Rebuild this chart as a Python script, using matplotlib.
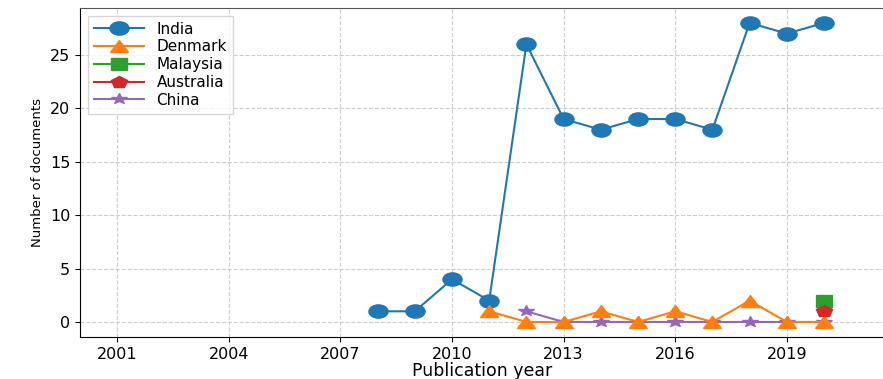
import matplotlib
matplotlib.use("Agg")
import matplotlib.pyplot as plt
from matplotlib.markers import MarkerStyle
from matplotlib.transforms import Affine2D

# documents per country and publication year
india_years = [2008, 2009, 2010, 2011, 2012, 2013, 2014, 2015, 2016, 2017, 2018, 2019, 2020]
india_docs = [1, 1, 4, 2, 26, 19, 18, 19, 19, 18, 28, 27, 28]
denmark_years = [2011, 2012, 2013, 2014, 2015, 2016, 2017, 2018, 2019, 2020]
denmark_docs = [1, 0, 0, 1, 0, 1, 0, 2, 0, 0]
malaysia_years = [2020]
malaysia_docs = [2]
australia_years = [2020]
australia_docs = [1]
china_years = [2012, 2013, 2014, 2015, 2016, 2017, 2018, 2019, 2020]
china_docs = [1, 0, 0, 0, 0, 0, 0, 0, 0]
year_ticks = [2001, 2004, 2007, 2010, 2013, 2016, 2019]


def wide(m):
    # markers are drawn a bit wider than tall
    return MarkerStyle(m, transform=Affine2D().scale(1.45, 1.0))


fig = plt.figure(figsize=(8.83, 3.79), dpi=100)
ax = fig.add_axes([0.0906, 0.111, 0.91, 0.868])

l1, = ax.plot(india_years, india_docs, marker=wide("o"), markersize=9.5, color="C0", label="India", zorder=3)
l2, = ax.plot(denmark_years, denmark_docs, marker=wide("^"), markersize=8.5, color="C1", label="Denmark", zorder=3)
l3, = ax.plot(malaysia_years, malaysia_docs, marker=wide("s"), markersize=8, color="C2", label="Malaysia", zorder=3)
l4, = ax.plot(australia_years, australia_docs, marker=wide("p"), markersize=8.5, color="C3", label="Australia", zorder=4)
l5, = ax.plot(china_years, china_docs, marker=wide("*"), markersize=8, color="C4", label="China", zorder=2)

ax.set_xlim(2000, 2021.6)
ax.set_ylim(-1.4, 29.4)
ax.set_xticks(year_ticks)
ax.set_yticks([0, 5, 10, 15, 20, 25])
ax.tick_params(labelsize=11.5)
ax.grid(True, linestyle="--", color="#cccccc", linewidth=0.8)
ax.set_axisbelow(True)
ax.set_xlabel("Publication year", fontsize=12.5, labelpad=0)
ax.set_ylabel("Number of documents", fontsize=9.5)
ax.spines["top"].set_color("#555555")
ax.legend(handles=[l1, l2, l3, l4, l5], loc="upper left", fontsize=11,
          fancybox=False, edgecolor="#cccccc", handlelength=3.3,
          labelspacing=0.18)

fig.savefig("out.png", dpi=100)
